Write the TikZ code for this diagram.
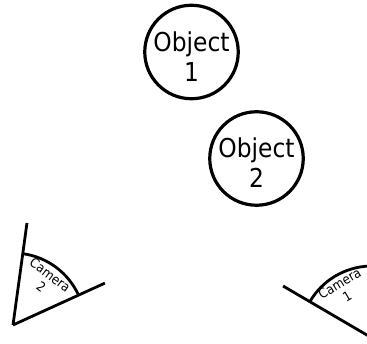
\documentclass[tikz,border=0pt]{standalone}
\usepackage{fontspec}
\setmainfont{DejaVu Sans}
\newfontfamily\condfont[FakeStretch=0.9]{DejaVu Sans}
\usetikzlibrary{calc}
\begin{document}
\begin{tikzpicture}[x=1pt,y=1pt,
  objnode/.style={circle,draw,line width=3.2pt,minimum size=93.5pt,inner sep=0pt},
  objlabel/.style={align=center,inner sep=0pt,font=\condfont\fontsize{26}{30}\selectfont},
  camline/.style={line width=2.8pt,line cap=butt},
  camlabel/.style={align=center,inner sep=0pt,font=\condfont\fontsize{13.2}{15}\selectfont}]
\useasboundingbox (0,0) rectangle (367,343);
\clip (0,0) rectangle (367,343);
% objects
\node[objnode] (obj1) at (191.5,291) {};
\node[objlabel] (obj1t) at ($(obj1.center)+(0,-4.5)$) {Object\\1};
\node[objnode] (obj2) at (256.5,184.5) {};
\node[objlabel] (obj2t) at ($(obj2.center)+(0,-4.5)$) {Object\\2};
% camera 2
\coordinate (cam2) at (13,18);
\draw[camline] (cam2) -- ++(82.2:103) coordinate (cam2a);
\draw[camline] (cam2) -- ++(24.5:101) coordinate (cam2b);
\draw[camline] ($(cam2)+(24.5:72)$) arc[start angle=24.5,end angle=82.2,radius=72];
\node[camlabel,rotate=-36.6] (lab2) at ($(cam2)+(53.4:55)$) {Camera\\2};
% camera 1
\coordinate (cam1) at (372,5);
\draw[camline] (cam1) -- ++(149.7:103) coordinate (cam1a);
\draw[camline] (cam1) -- ++(92:103) coordinate (cam1b);
\draw[camline] ($(cam1)+(149.7:72)$) arc[start angle=149.7,end angle=92,radius=72];
\node[camlabel,rotate=30.8] (lab1) at ($(cam1)+(120.8:56)$) {Camera\\1};
\end{tikzpicture}
\end{document}
